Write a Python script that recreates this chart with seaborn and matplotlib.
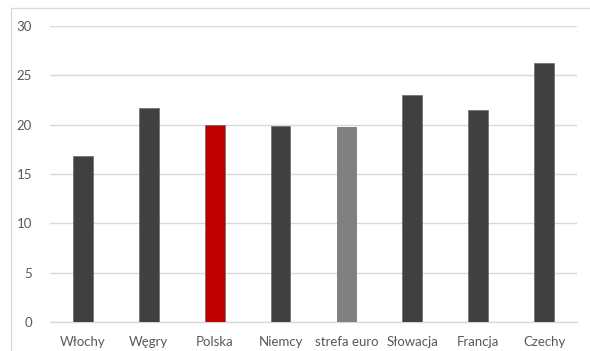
import matplotlib
matplotlib.use("Agg")
import matplotlib.pyplot as plt
import matplotlib.patches as mpatches
import seaborn as sns
import pandas as pd

# Values per country
categories = ["Włochy", "Węgry", "Polska", "Niemcy", "strefa euro", "Słowacja", "Francja", "Czechy"]
values = [16.8, 21.7, 20.0, 19.9, 19.8, 23.0, 21.5, 26.3]
bar_colors = ["#404040", "#404040", "#C00000", "#404040", "#808080", "#404040", "#404040", "#404040"]
y_ticks = [0, 5, 10, 15, 20, 25, 30]

sns.set_theme(style="white")
plt.rcParams["font.family"] = ["Lato", "DejaVu Sans"]

df = pd.DataFrame({"kraj": categories, "wartosc": values})

fig = plt.figure(figsize=(5.9, 3.51), dpi=100)
ax = fig.add_axes([50 / 590, 1 - 322 / 351, 527 / 590, 296 / 351])

sns.barplot(data=df, x="kraj", y="wartosc", hue="kraj", palette=bar_colors,
            order=categories, hue_order=categories, width=0.3, legend=False,
            saturation=1, edgecolor="#6a6a6a", linewidth=0.5, ax=ax, zorder=3)

ax.set_ylim(0, 30)
ax.set_yticks(y_ticks)
ax.set_xlim(-0.5, len(categories) - 0.5)
ax.yaxis.grid(True, color="#D9D9D9", linewidth=1.0, zorder=0)
ax.set_axisbelow(True)
for side in ["left", "right", "top"]:
    ax.spines[side].set_visible(False)
ax.spines["bottom"].set_color("#D9D9D9")
ax.spines["bottom"].set_linewidth(1.0)
ax.tick_params(axis="both", length=0, labelsize=9.5, labelcolor="#595959")
ax.tick_params(axis="y", pad=13)
ax.tick_params(axis="x", pad=10)
ax.set_xlabel("")
ax.set_ylabel("")

# Chart frame
frame = mpatches.Rectangle((11 / 590, -0.1), 1.2, 1 - 8 / 351 + 0.1,
                           transform=fig.transFigure, fill=False,
                           edgecolor="#D9D9D9", linewidth=1.0)
fig.patches.append(frame)

fig.savefig("out.png", dpi=100)
